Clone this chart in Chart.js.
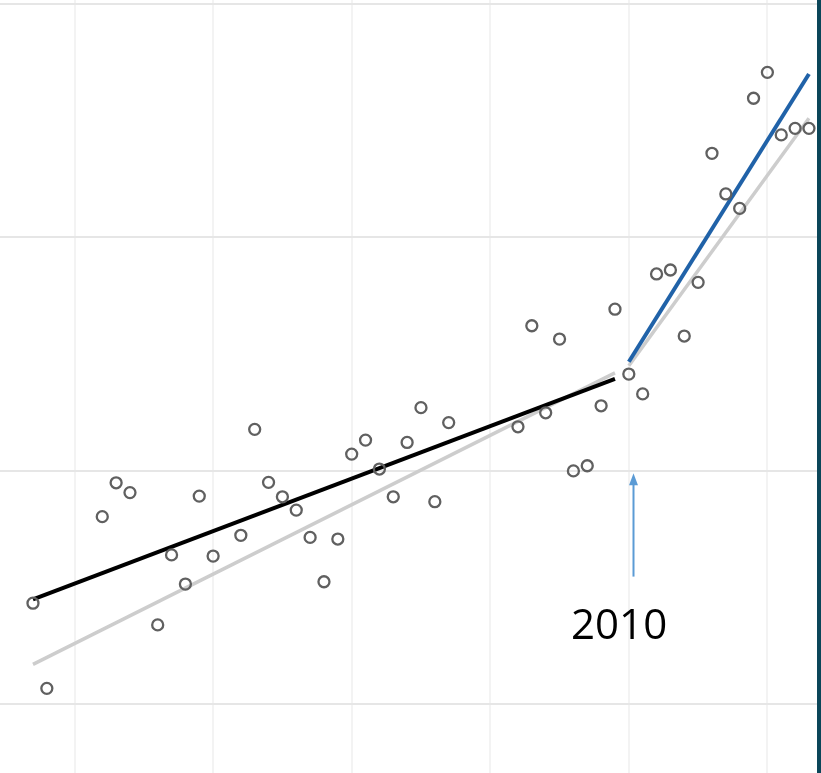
<!DOCTYPE html>
<html>
<head>
<meta charset="utf-8">
<script src="https://cdn.jsdelivr.net/npm/chart.js@4"></script>
<style>
  html, body { margin: 0; padding: 0; background: #fff; }
  #wrap { position: relative; width: 817px; height: 773px; border-right: 4px solid #0b4659; }
</style>
</head>
<body>
<div id="wrap"><canvas id="chart" width="817" height="773"></canvas></div>
<script>
// years and observed values (one marker per year, some years missing)
const years = [1967, 1968, 1972, 1973, 1974, 1976, 1977, 1978, 1979, 1980,
  1982, 1983, 1984, 1985, 1986, 1987, 1988, 1989, 1990, 1991,
  1992, 1993, 1994, 1995, 1996, 1997, 2002, 2003, 2004, 2005,
  2006, 2007, 2008, 2009, 2010, 2011, 2012, 2013, 2014, 2015,
  2016, 2017, 2018, 2019, 2020, 2021, 2022, 2023];
const values = [4.32, 0.67, 8.03, 9.48, 9.06, 3.39, 6.39, 5.14, 8.91, 6.34,
  7.23, 11.77, 9.50, 8.88, 8.31, 7.14, 5.24, 7.07, 10.71, 11.31,
  10.07, 8.88, 11.21, 12.70, 8.67, 12.06, 11.88, 16.21, 12.48, 15.64,
  9.99, 10.21, 12.78, 16.92, 14.14, 13.29, 18.43, 18.60, 15.77, 18.07,
  23.60, 21.86, 21.24, 25.96, 27.07, 24.39, 24.67, 24.67];

// trend lines (start / end)
const trendBeforeYears = [1967, 2009];
const trendBeforeValues = [4.48, 13.93];
const trendAfterYears = [2010, 2023];
const trendAfterValues = [14.67, 27.0];
const fitAllYears = [1967, 2009, 2010, 2023];
const fitAllValues = [1.70, 14.19, 14.5, 25.1];

const xTicks = [1970, 1980, 1990, 2000, 2010, 2020];
const yTicks = [0, 10, 20, 30];

const breakYear = 2010;
const breakLabel = '2010';

const pts = (xs, ys) => xs.map((x, i) => ({ x: x, y: ys[i] }));

// arrow + label under the break point
const breakMarker = {
  id: 'breakMarker',
  afterDatasetsDraw(chart) {
    const { ctx, scales: { x, y } } = chart;
    const ax = Math.round(x.getPixelForValue(breakYear + 0.3)) + 0.5;
    const top = y.getPixelForValue(9.89);
    const bottom = y.getPixelForValue(5.46);
    ctx.save();
    ctx.strokeStyle = '#5b9bd5';
    ctx.fillStyle = '#5b9bd5';
    ctx.lineWidth = 2;
    ctx.beginPath();
    ctx.moveTo(ax, bottom);
    ctx.lineTo(ax, top + 10);
    ctx.stroke();
    ctx.beginPath();
    ctx.moveTo(ax, top);
    ctx.lineTo(ax - 4.5, top + 12);
    ctx.lineTo(ax + 4.5, top + 12);
    ctx.closePath();
    ctx.fill();
    ctx.fillStyle = '#000';
    ctx.font = '42px "Open Sans", "Noto Sans", sans-serif';
    ctx.textAlign = 'center';
    ctx.textBaseline = 'alphabetic';
    ctx.fillText(breakLabel, x.getPixelForValue(breakYear - 0.7), y.getPixelForValue(2.79));
    ctx.restore();
  }
};

new Chart(document.getElementById('chart'), {
  data: {
    datasets: [
      {
        type: 'scatter',
        data: pts(years, values),
        pointStyle: 'circle',
        pointRadius: 5.5,
        pointBorderWidth: 2.3,
        pointBorderColor: '#606060',
        pointBackgroundColor: 'rgba(255,255,255,0)'
      },
      {
        type: 'line',
        data: pts(trendAfterYears, trendAfterValues),
        borderColor: '#2062a8',
        borderWidth: 4,
        pointRadius: 0,
        fill: false
      },
      {
        type: 'line',
        data: pts(trendBeforeYears, trendBeforeValues),
        borderColor: '#000',
        borderWidth: 4,
        pointRadius: 0,
        fill: false
      },
      {
        type: 'line',
        data: pts(fitAllYears.slice(0, 2), fitAllValues.slice(0, 2)),
        borderColor: '#cdcdcd',
        borderWidth: 3.5,
        pointRadius: 0,
        fill: false
      },
      {
        type: 'line',
        data: pts(fitAllYears.slice(2), fitAllValues.slice(2)),
        borderColor: '#cdcdcd',
        borderWidth: 3.5,
        pointRadius: 0,
        fill: false
      }
    ]
  },
  options: {
    responsive: false,
    animation: false,
    layout: { padding: 0, autoPadding: false },
    plugins: { legend: { display: false }, tooltip: { enabled: false } },
    scales: {
      x: {
        type: 'linear',
        min: 1964.62,
        max: 2023.58,
        afterBuildTicks: (s) => { s.ticks = xTicks.map(v => ({ value: v })); },
        ticks: { display: false },
        border: { display: false },
        grid: { color: '#f3f3f3', lineWidth: 2, drawTicks: false }
      },
      y: {
        type: 'linear',
        min: -2.957,
        max: 30.171,
        afterBuildTicks: (s) => { s.ticks = yTicks.map(v => ({ value: v })); },
        ticks: { display: false },
        border: { display: false },
        grid: { color: '#e6e6e6', lineWidth: 2, drawTicks: false }
      }
    }
  },
  plugins: [breakMarker]
});
</script>
</body>
</html>
